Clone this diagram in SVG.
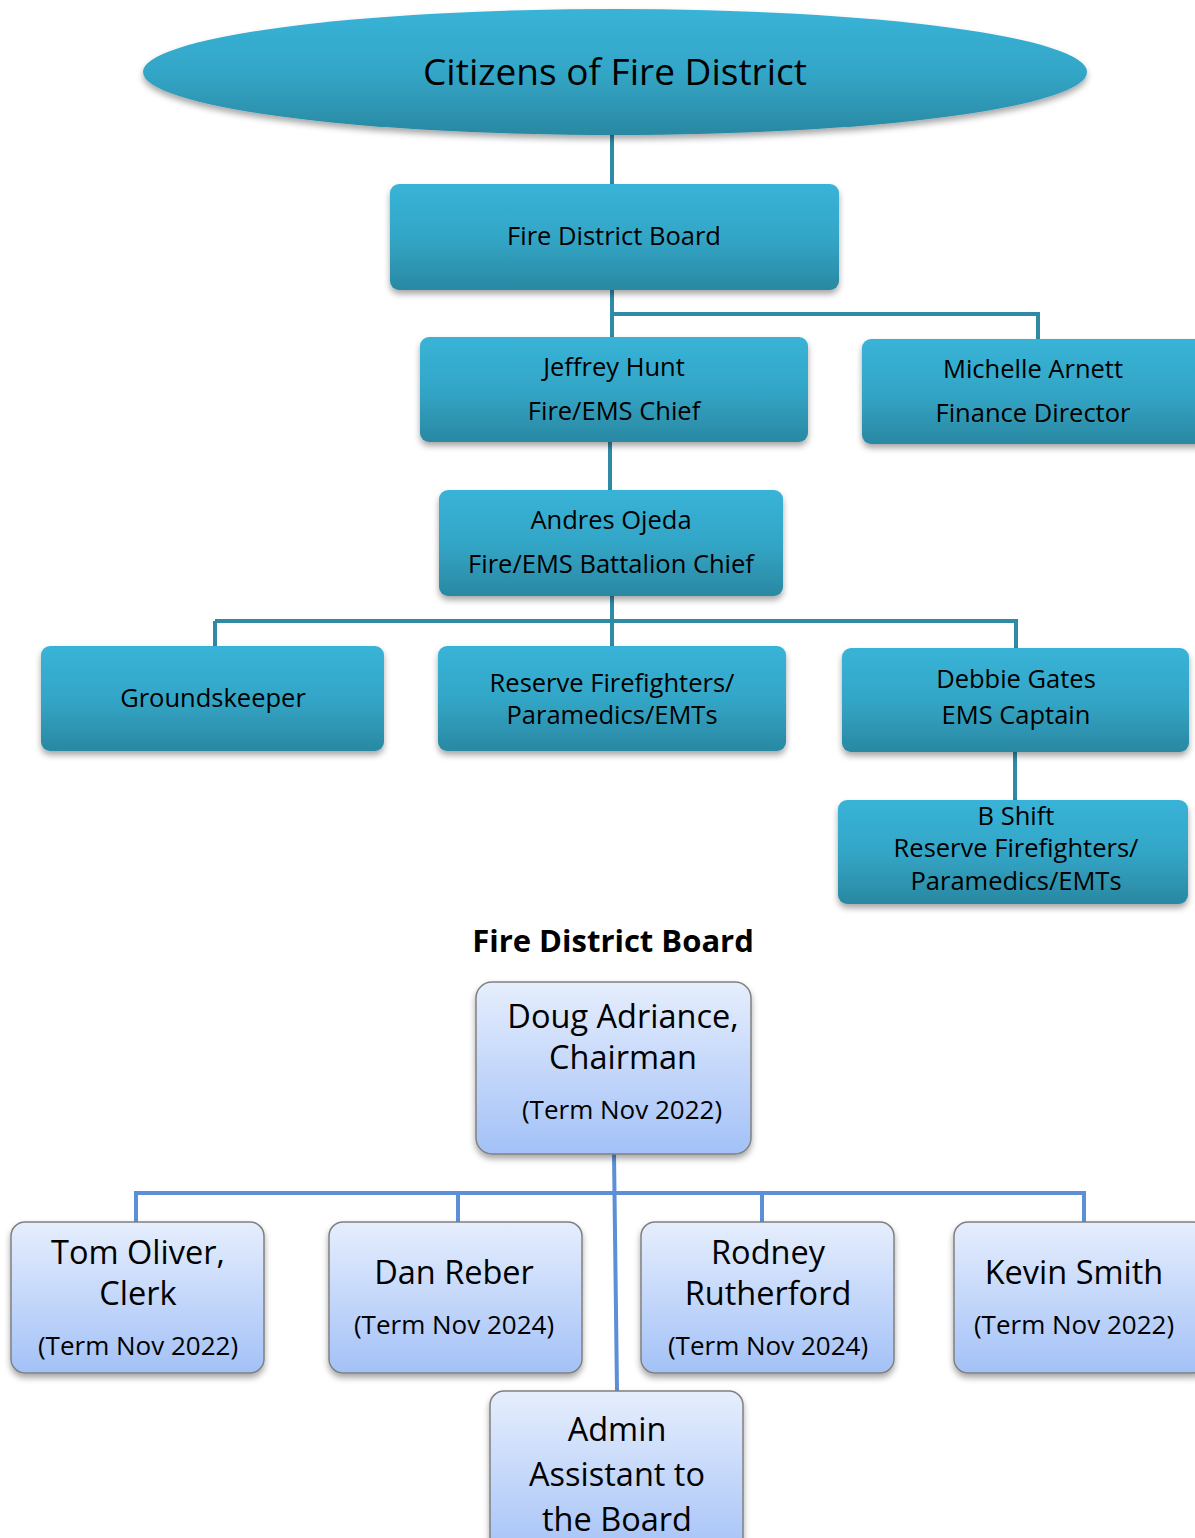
<svg xmlns="http://www.w3.org/2000/svg" width="1195" height="1538" viewBox="0 0 1195 1538">
<defs>
<linearGradient id="teal" x1="0" y1="0" x2="0" y2="1">
<stop offset="0" stop-color="#38b3d7"/>
<stop offset="0.5" stop-color="#33a6c7"/>
<stop offset="1" stop-color="#2a88a2"/>
</linearGradient>
<linearGradient id="lblue" x1="0" y1="0" x2="0" y2="1">
<stop offset="0" stop-color="#e6eefd"/>
<stop offset="1" stop-color="#a3c1f7"/>
</linearGradient>
<filter id="sh" x="-10%" y="-10%" width="120%" height="140%">
<feDropShadow dx="0" dy="4" stdDeviation="3" flood-color="#000" flood-opacity="0.35"/>
</filter>
</defs>
<style>
.t{fill:url(#teal);filter:url(#sh)}
.b{fill:url(#lblue);stroke:#808080;stroke-width:1.5;filter:url(#sh)}
text{font-family:"Open Sans","Noto Sans",sans-serif;fill:#000;text-anchor:middle}
.s24{font-size:25.5px}
.s32{font-size:32.5px}
.s26{font-size:26px}
.tc{stroke:#2e8aa5;stroke-width:4;fill:none}
.bc{stroke:#5b8fd8;stroke-width:4;fill:none}
</style>
<rect width="1195" height="1538" fill="#fff"/>
<g id="connectors">
<path class="tc" d="M612 134V186"/>
<path class="tc" d="M612 288V339M612 314H1038V341"/>
<path class="tc" d="M610 440V492"/>
<path class="tc" d="M612 594V648M215 621H1016V650M215 621V648"/>
<path class="tc" d="M1015 750V802"/>
<path class="bc" d="M614 1154L617 1391"/>
<path class="bc" d="M136 1223V1193H1084V1223M458 1193V1223M762 1193V1223"/>
</g>
<g id="citizens">
<ellipse cx="615" cy="72" rx="472" ry="63" fill="url(#teal)" filter="url(#sh)"/>
<text x="615" y="85" style="font-size:37px">Citizens of Fire District</text>
</g>
<g id="board">
<rect class="t" x="390" y="184" width="449" height="106" rx="9"/>
<text class="s24" x="614" y="245">Fire District Board</text>
</g>
<g id="chief">
<rect class="t" x="420" y="337" width="388" height="105" rx="9"/>
<text class="s24" x="614" y="376">Jeffrey Hunt</text>
<text class="s24" x="614" y="420">Fire/EMS Chief</text>
</g>
<g id="finance">
<rect class="t" x="862" y="339" width="345" height="105" rx="9"/>
<text class="s24" x="1033" y="378">Michelle Arnett</text>
<text class="s24" x="1033" y="422">Finance Director</text>
</g>
<g id="battalion">
<rect class="t" x="439" y="490" width="344" height="106" rx="9"/>
<text class="s24" x="611" y="529">Andres Ojeda</text>
<text class="s24" x="611" y="573">Fire/EMS Battalion Chief</text>
</g>
<g id="grounds">
<rect class="t" x="41" y="646" width="343" height="105" rx="9"/>
<text class="s24" x="213" y="707">Groundskeeper</text>
</g>
<g id="reserve">
<rect class="t" x="438" y="646" width="348" height="105" rx="9"/>
<text class="s24" x="612" y="692">Reserve Firefighters/</text>
<text class="s24" x="612" y="724">Paramedics/EMTs</text>
</g>
<g id="ems">
<rect class="t" x="842" y="648" width="347" height="104" rx="9"/>
<text class="s24" x="1016" y="688">Debbie Gates</text>
<text class="s24" x="1016" y="724">EMS Captain</text>
</g>
<g id="bshift">
<rect class="t" x="838" y="800" width="350" height="104" rx="9"/>
<text class="s24" x="1016" y="825">B Shift</text>
<text class="s24" x="1016" y="857">Reserve Firefighters/</text>
<text class="s24" x="1016" y="890">Paramedics/EMTs</text>
</g>
<text id="title" x="613" y="952" style="font-size:31px;font-weight:bold">Fire District Board</text>
<g id="doug">
<rect class="b" x="476" y="982" width="275" height="172" rx="16"/>
<text class="s32" x="623" y="1028">Doug Adriance,</text>
<text class="s32" x="623" y="1069">Chairman</text>
<text class="s26" x="622" y="1119">(Term Nov 2022)</text>
</g>
<g id="tom">
<rect class="b" x="11" y="1222" width="253" height="151" rx="14"/>
<text class="s32" x="138" y="1264">Tom Oliver,</text>
<text class="s32" x="138" y="1305">Clerk</text>
<text class="s26" x="138" y="1355">(Term Nov 2022)</text>
</g>
<g id="dan">
<rect class="b" x="329" y="1222" width="253" height="151" rx="14"/>
<text class="s32" x="454" y="1284">Dan Reber</text>
<text class="s26" x="454" y="1334">(Term Nov 2024)</text>
</g>
<g id="rodney">
<rect class="b" x="641" y="1222" width="253" height="151" rx="14"/>
<text class="s32" x="768" y="1264">Rodney</text>
<text class="s32" x="768" y="1305">Rutherford</text>
<text class="s26" x="768" y="1355">(Term Nov 2024)</text>
</g>
<g id="kevin">
<rect class="b" x="954" y="1222" width="253" height="151" rx="14"/>
<text class="s32" x="1074" y="1284">Kevin Smith</text>
<text class="s26" x="1074" y="1334">(Term Nov 2022)</text>
</g>
<g id="admin">
<rect class="b" x="490" y="1391" width="253" height="170" rx="14"/>
<text class="s32" x="617" y="1441">Admin</text>
<text class="s32" x="617" y="1486">Assistant to</text>
<text class="s32" x="617" y="1531">the Board</text>
</g>
</svg>
